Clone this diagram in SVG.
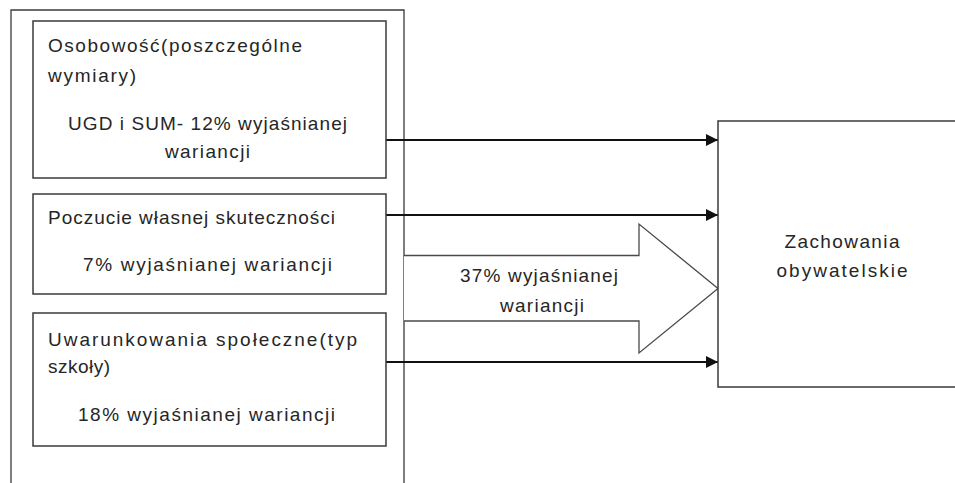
<svg xmlns="http://www.w3.org/2000/svg" width="955" height="483" viewBox="0 0 955 483">
<style>
.box{fill:#fff;stroke:#3a3a3a;stroke-width:1.5}
.frame{fill:none;stroke:#3a3a3a;stroke-width:1.3}
.t{font-family:"Liberation Sans",Arial,sans-serif;font-size:19px;fill:#262626}
.c{text-anchor:middle}
.conn{stroke:#111;stroke-width:2;fill:none}
.big{fill:#fff;stroke:#4a4a4a;stroke-width:1.3}
</style>
<defs>
<marker id="ah" markerUnits="userSpaceOnUse" markerWidth="12" markerHeight="12" refX="12" refY="6" orient="auto">
<path d="M0,0 L12,6 L0,12 z" fill="#111"/>
</marker>
</defs>
<rect width="955" height="483" fill="#fff"/>
<g id="frame">
<path class="frame" d="M11,483 V10 H404 V483"/>
</g>
<g id="bigArrow">
<path class="big" d="M404,255.5 H639 V224 L718,288.5 L639,353 V321 H404"/>
<text class="t c" x="539" y="282" textLength="158">37% wyjaśnianej</text>
<text class="t c" x="542" y="312" textLength="84">wariancji</text>
</g>
<g id="connectors">
<line class="conn" x1="386" y1="140" x2="718" y2="140" marker-end="url(#ah)"/>
<line class="conn" x1="386" y1="215" x2="718" y2="215" marker-end="url(#ah)"/>
<line class="conn" x1="386" y1="362" x2="718" y2="362" marker-end="url(#ah)"/>
</g>
<g id="node1">
<rect class="box" x="33" y="21" width="353" height="157"/>
<text class="t" x="48" y="52" textLength="254">Osobowość(poszczególne</text>
<text class="t" x="48" y="82" textLength="88">wymiary)</text>
<text class="t c" x="207.5" y="130" textLength="279">UGD i SUM- 12% wyjaśnianej</text>
<text class="t c" x="207.5" y="158" textLength="85">wariancji</text>
</g>
<g id="node2">
<rect class="box" x="33" y="194" width="353" height="100"/>
<text class="t" x="48" y="224" textLength="287">Poczucie własnej skuteczności</text>
<text class="t c" x="207.5" y="271" textLength="249">7% wyjaśnianej wariancji</text>
</g>
<g id="node3">
<rect class="box" x="33" y="313" width="353" height="133"/>
<text class="t" x="48" y="346" textLength="309">Uwarunkowania społeczne(typ</text>
<text class="t" x="48" y="373" textLength="62">szkoły)</text>
<text class="t c" x="206.5" y="421" textLength="257">18% wyjaśnianej wariancji</text>
</g>
<g id="node4">
<path class="box" d="M960,121 H718 V387 H960"/>
<text class="t c" x="842" y="248" textLength="115">Zachowania</text>
<text class="t c" x="842" y="277" textLength="131">obywatelskie</text>
</g>
</svg>
